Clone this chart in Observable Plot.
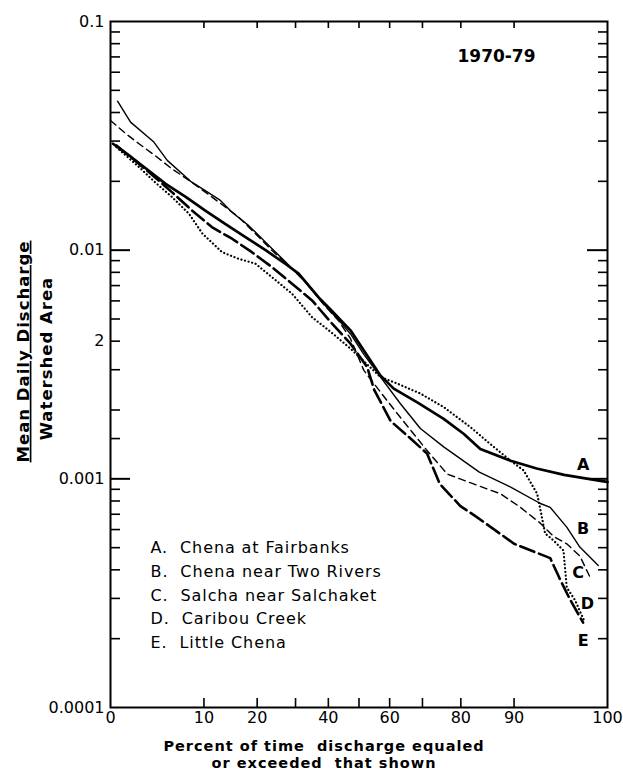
<!DOCTYPE html>
<html><head><meta charset="utf-8">
<script src="https://cdn.jsdelivr.net/npm/d3@7"></script>
<script src="https://cdn.jsdelivr.net/npm/@observablehq/plot@0.6"></script>
<style>body{margin:0;background:#fff}#chart{width:623px;height:772px}</style>
</head><body><div id="chart"></div>
<script>
// ---------- data (percent of time exceeded, discharge / watershed area) ----------
const seriesKeys = ["A", "B", "C", "D", "E"];
const seriesNames = ["Chena at Fairbanks", "Chena near Two Rivers", "Salcha near Salchaket", "Caribou Creek", "Little Chena"];

const pctA = [2.1,3.0,4.1,5.5,7.6,10.2,13.5,17.4,22,27.2,30.9,37,40.7,47.2,51.6,57,61.3,68.5,75.8,80.7,84.2,89.5,92.9,95.5,97.7,98];
const valA = [0.0292,0.0255,0.0223,0.0195,0.0171,0.0149,0.0130,0.0114,0.0100,0.0087,0.0079,0.0062,0.0055,0.00446,0.00364,0.00283,0.00248,0.00216,0.00183,0.00157,0.00135,0.00120,0.00111,0.00104,0.00098,0.00097];

const pctB = [2.3,2.95,4.5,5.65,8.2,10.2,12.6,14.7,18.1,22,27.2,32.9,38,43.4,47.2,51.6,57,63.4,69.4,75.8,84,89.5,93.3,94.3,95.7,96.6,97.6];
const valB = [0.0448,0.0363,0.0297,0.0247,0.0200,0.0182,0.0165,0.01465,0.0128,0.01084,0.00887,0.00725,0.00593,0.00493,0.0043,0.0035,0.00279,0.00213,0.00166,0.00138,0.00107,0.00092,0.00078,0.00075,0.000615,0.000503,0.000418];

const pctC = [2.0,2.7,3.45,4.6,6.1,8.0,10.2,13.5,16,19.6,23.6,28.1,32.9,38,43.4,47.2,51.6,57,62.4,71.3,76.7,82.8,87.9,90.9,93.3,94.6,95.7,96.6,97.2];
const valC = [0.0369,0.0323,0.0292,0.0259,0.0227,0.0202,0.01794,0.01542,0.01394,0.0118,0.00997,0.00857,0.00725,0.0059,0.0049,0.0041,0.00298,0.0024,0.00193,0.00133,0.00105,0.00095,0.00086,0.00075,0.00064,0.00056,0.00052,0.00046,0.00037];

const pctD = [2.25,3.45,4.6,6.1,8.0,9.8,12.9,16.0,19.6,23.6,29,34.9,40.7,47.2,57,62.4,69.4,75.8,82.2,86.1,89.5,91.3,92.96,93.8,94.6,95.45,95.7,96.3,96.9];
const valD = [0.0282,0.0231,0.0198,0.0171,0.01443,0.0118,0.0098,0.00916,0.00873,0.00762,0.00645,0.00509,0.0044,0.00371,0.00279,0.00261,0.00236,0.00206,0.00168,0.00142,0.00120,0.00109,0.00086,0.000577,0.000538,0.000486,0.000335,0.000294,0.000236];

const pctE = [2.25,3.2,4.6,6.1,8.4,11.2,14.7,18.8,23.6,29,34.9,41.2,47.2,52.7,55,60.3,66.5,71.3,74.8,79.9,83.5,90,94.3,95.1,95.9,96.8];
const valE = [0.0287,0.0247,0.0208,0.01794,0.0149,0.01262,0.01122,0.0098,0.00843,0.00713,0.00603,0.00477,0.0039,0.00308,0.00245,0.00179,0.0015,0.00129,0.00095,0.00076,0.00068,0.00052,0.00045,0.00037,0.0003,0.000235];

// curve-letter annotation positions (percent, value)
const letterPct = [96.8, 96.8, 96.5, 97.05, 96.8];
const letterVal = [0.00115, 0.000607, 0.000386, 0.000285, 0.000196];

// axes
const xTickPcts = [10,20,30,40,50,60,70,80,90];
const xLabelPcts = [2,10,20,40,60,80,90,98];
const xLabelText = ["0","10","20","40","60","80","90","100"];
const yLabelVals = [0.1, 0.01, 0.004, 0.001, 0.0001];
const yLabelText = ["0.1","0.01","2","0.001","0.0001"];
const yMajorTicks = [0.01, 0.001];
const yDecades = [0.0001, 0.001, 0.01];
const yMinorMult = [2,3,4,5,6,7,8,9];
const yExtraTicks = [0.0015];

// ---------- probability (normal) scale helper ----------
function probit(p) {
  const a=[-3.969683028665376e+01,2.209460984245205e+02,-2.759285104469687e+02,1.383577518672690e+02,-3.066479806614716e+01,2.506628277459239e+00];
  const b=[-5.447609879822406e+01,1.615858368580409e+02,-1.556989798598866e+02,6.680131188771972e+01,-1.328068155288572e+01];
  const c=[-7.784894002430293e-03,-3.223964580411365e-01,-2.400758277161838e+00,-2.549732539343734e+00,4.374664141464968e+00,2.938163982698783e+00];
  const d=[7.784695709041462e-03,3.224671290700398e-01,2.445134137142996e+00,3.754408661907416e+00];
  const pl=0.02425, ph=1-pl; let q, r;
  if (p < pl) { q=Math.sqrt(-2*Math.log(p)); return (((((c[0]*q+c[1])*q+c[2])*q+c[3])*q+c[4])*q+c[5])/((((d[0]*q+d[1])*q+d[2])*q+d[3])*q+1); }
  if (p <= ph) { q=p-0.5; r=q*q; return (((((a[0]*r+a[1])*r+a[2])*r+a[3])*r+a[4])*r+a[5])*q/(((((b[0]*r+b[1])*r+b[2])*r+b[3])*r+b[4])*r+1); }
  q=Math.sqrt(-2*Math.log(1-p)); return -(((((c[0]*q+c[1])*q+c[2])*q+c[3])*q+c[4])*q+c[5])/((((d[0]*q+d[1])*q+d[2])*q+d[3])*q+1);
}
const px = p => probit(p / 100);

// ---------- build tables ----------
const pcts = [pctA, pctB, pctC, pctD, pctE];
const vals = [valA, valB, valC, valD, valE];
const series = seriesKeys.map((k, i) => pcts[i].map((p, j) => ({key: k, p, v: vals[i][j]})));
const letters = seriesKeys.map((k, i) => ({key: k, p: letterPct[i], v: letterVal[i]}));
const yMinorTicks = yDecades.flatMap(d => yMinorMult.map(m => +(d * m).toPrecision(3))).concat(yExtraTicks);

const styles = {
  A: {strokeWidth: 2.7},
  B: {strokeWidth: 1.4},
  C: {strokeWidth: 1.4, strokeDasharray: "7,4.5"},
  D: {strokeWidth: 2.2, strokeDasharray: "0.1,3.6", strokeLinecap: "round"},
  E: {strokeWidth: 2.6, strokeDasharray: "15,5"}
};

const W = 623, H = 772, mL = 110, mR = 16, mT = 21, mB = 65;
const fw = W - mL - mR, fh = H - mT - mB;
const font = "DejaVu Sans";
const legendText = seriesKeys.map((k, i) => `${k}.  ${seriesNames[i]}`).join("\n");

const chart = Plot.plot({
  width: W, height: H,
  marginLeft: mL, marginRight: mR, marginTop: mT, marginBottom: mB,
  style: {fontFamily: font, background: "#fff", color: "#000"},
  x: {type: "linear", domain: [px(2), px(98)], axis: null},
  y: {type: "log", domain: [0.0001, 0.1], axis: null},
  marks: [
    // ticks (inward)
    Plot.tickY(yMinorTicks, {y: d => d, insetRight: fw - 10, stroke: "#000", strokeWidth: 1.6}),
    Plot.tickY(yMinorTicks, {y: d => d, insetLeft: fw - 9, stroke: "#000", strokeWidth: 1.6}),
    Plot.tickY(yMajorTicks, {y: d => d, insetRight: fw - 20, stroke: "#000", strokeWidth: 2}),
    Plot.tickY(yMajorTicks, {y: d => d, insetLeft: fw - 20, stroke: "#000", strokeWidth: 2}),
    Plot.tickX(xTickPcts, {x: d => px(d), insetTop: fh - 9, stroke: "#000", strokeWidth: 1.6}),
    Plot.tickX(xTickPcts, {x: d => px(d), insetBottom: fh - 7, stroke: "#000", strokeWidth: 1.6}),
    Plot.frame({stroke: "#000", strokeWidth: 2}),
    // curves
    ...series.map(s => Plot.line(s, {x: d => px(d.p), y: "v", stroke: "#000", strokeLinejoin: "round", ...styles[s[0].key]})),
    // curve letters
    Plot.text(letters, {x: d => px(d.p), y: "v", text: "key", fontSize: 16, fontWeight: "bold", fill: "#000"}),
    // axis labels
    Plot.text(yLabelVals, {y: d => d, text: d => yLabelText[yLabelVals.indexOf(d)], frameAnchor: "left", dx: -6, textAnchor: "end", fontSize: 16, fill: "#000"}),
    Plot.text(xLabelPcts, {x: d => px(d), text: d => xLabelText[xLabelPcts.indexOf(d)], frameAnchor: "bottom", dy: 15, fontSize: 16, fill: "#000"}),
    // titles
    Plot.text(["Percent of time  discharge equaled\nor exceeded  that shown"], {frameAnchor: "bottom", dx: -35, dy: 32, textAnchor: "middle", lineAnchor: "top", lineHeight: 1.13, fontSize: 14.5, fontWeight: "bold", fill: "#000"}),
    Plot.text(["Mean Daily Discharge"], {frameAnchor: "left", dx: -87, dy: -13, rotate: -90, textAnchor: "middle", fontSize: 16.5, fontWeight: "bold", fill: "#000"}),
    Plot.text(["Watershed Area"], {frameAnchor: "left", dx: -64, dy: -6, rotate: -90, textAnchor: "middle", fontSize: 16.5, fontWeight: "bold", fill: "#000"}),
    Plot.text(["1970-79"], {frameAnchor: "top-left", dx: 347, dy: 28, textAnchor: "start", fontSize: 17, fontWeight: "bold", fill: "#000"}),
    // legend
    Plot.text([legendText], {frameAnchor: "top-left", dx: 40, dy: 515, textAnchor: "start", lineAnchor: "top", lineHeight: 1.48, fontSize: 16, fill: "#000"})
  ]
});
const sel = d3.select(chart);
sel.selectAll("text").filter(function() { return this.textContent === "Mean Daily Discharge"; })
  .style("text-decoration", "underline");
sel.selectAll("text").filter(function() { return /^Percent|^Mean|^Watershed/.test(this.textContent); })
  .style("letter-spacing", "1px");
sel.selectAll("text").filter(function() { return /^A\.\s/.test(this.textContent); })
  .style("letter-spacing", "0.9px");
document.getElementById("chart").appendChild(chart);
</script>
</body></html>
